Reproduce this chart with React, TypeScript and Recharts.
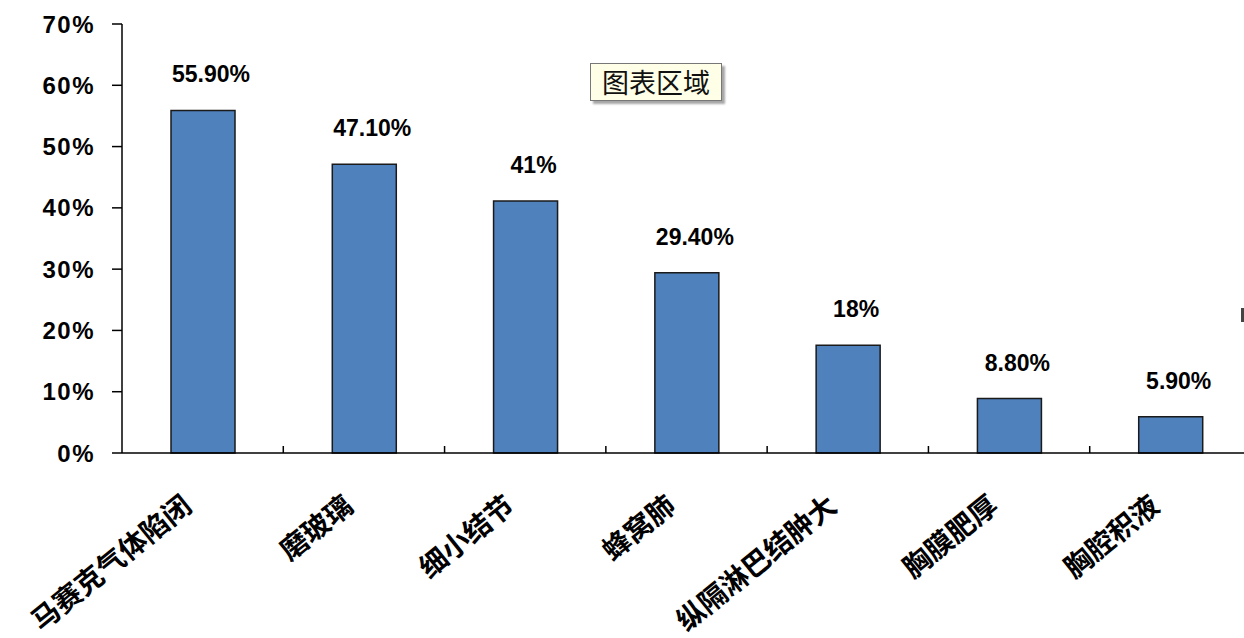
import React from "react";
import { BarChart, Bar, XAxis, YAxis, LabelList } from "recharts";

// 表示データ
const categories = ["马赛克气体陷闭", "磨玻璃", "细小结节", "蜂窝肺", "纵隔淋巴结肿大", "胸膜肥厚", "胸腔积液"];
const values = [55.9, 47.1, 41.1, 29.4, 17.6, 8.9, 5.9];
const valueLabels = ["55.90%", "47.10%", "41%", "29.40%", "18%", "8.80%", "5.90%"];
const yTicks = [0, 10, 20, 30, 40, 50, 60, 70];

const W = 1244;
const H = 638;
const LEFT = 122;
const RIGHT = -7;
const BAND = (W - LEFT - RIGHT) / categories.length;

const NUM_FONT = '"Liberation Sans", Arial, sans-serif';
const CJK_FONT = '"Noto Sans CJK SC", "Noto Sans CJK JP", sans-serif';

const data = categories.map((name, i) => ({ name, value: values[i], label: valueLabels[i] }));

function CategoryTick(props: any) {
  const { x, y, payload, index } = props;
  return (
    <g>
      {/* Excel風: 目盛り線はカテゴリの境目に内向き */}
      {index > 0 && (
        <line x1={x - BAND / 2} x2={x - BAND / 2} y1={y} y2={y - 7} stroke="#000" strokeWidth={1.5} />
      )}
      <text
        x={0}
        y={0}
        transform={`translate(${x - 9},${y + 56}) rotate(-39)`}
        textAnchor="end"
        fontFamily={CJK_FONT}
        fontWeight={700}
        fontSize={28}
        fill="#000"
      >
        {payload.value}
      </text>
    </g>
  );
}

function ValueLabel(props: any) {
  const { x, y, width, value } = props;
  return (
    <text
      x={x + width / 2 + 8}
      y={y - 36}
      dy="0.35em"
      textAnchor="middle"
      fontFamily={NUM_FONT}
      fontWeight={700}
      fontSize={23}
      fill="#000"
    >
      {value}
    </text>
  );
}

export default function App() {
  return (
    <div style={{ position: "absolute", left: 0, top: 0, width: W, height: H, background: "#fff", overflow: "hidden" }}>
      <BarChart width={W} height={H} data={data} margin={{ top: 24, right: RIGHT, left: 0, bottom: 0 }}>
        <XAxis
          dataKey="name"
          interval={0}
          height={185}
          tickLine={false}
          tickSize={0}
          tickMargin={0}
          axisLine={{ stroke: "#000", strokeWidth: 1.5 }}
          tick={<CategoryTick />}
        />
        <YAxis
          width={LEFT}
          domain={[0, 70]}
          ticks={yTicks}
          interval={0}
          tickFormatter={(v) => `${v}%`}
          tickSize={10}
          tickMargin={17}
          axisLine={{ stroke: "#000", strokeWidth: 1.5 }}
          tickLine={{ stroke: "#000", strokeWidth: 1.5 }}
          tick={{ fill: "#000", fontSize: 24, fontWeight: 700, fontFamily: NUM_FONT, letterSpacing: 1.5 }}
        />
        <Bar dataKey="value" fill="#4F81BD" stroke="#1a1a1a" strokeWidth={1.5} barSize={64} isAnimationActive={false}>
          <LabelList dataKey="label" content={<ValueLabel />} />
        </Bar>
      </BarChart>
      <div
        style={{
          position: "absolute",
          left: 590,
          top: 63,
          width: 132,
          height: 38,
          boxSizing: "border-box",
          background: "#FFFFE8",
          border: "1px solid #777",
          boxShadow: "3px 3px 2px rgba(0,0,0,0.35)",
          fontFamily: CJK_FONT,
          fontSize: 27,
          lineHeight: "36px",
          textAlign: "center",
          color: "#111",
        }}
      >
        图表区域
      </div>
      {/* 右端の切れた枠の一部 */}
      <div style={{ position: "absolute", left: 1241, top: 308, width: 3, height: 14, background: "#444" }} />
    </div>
  );
}
